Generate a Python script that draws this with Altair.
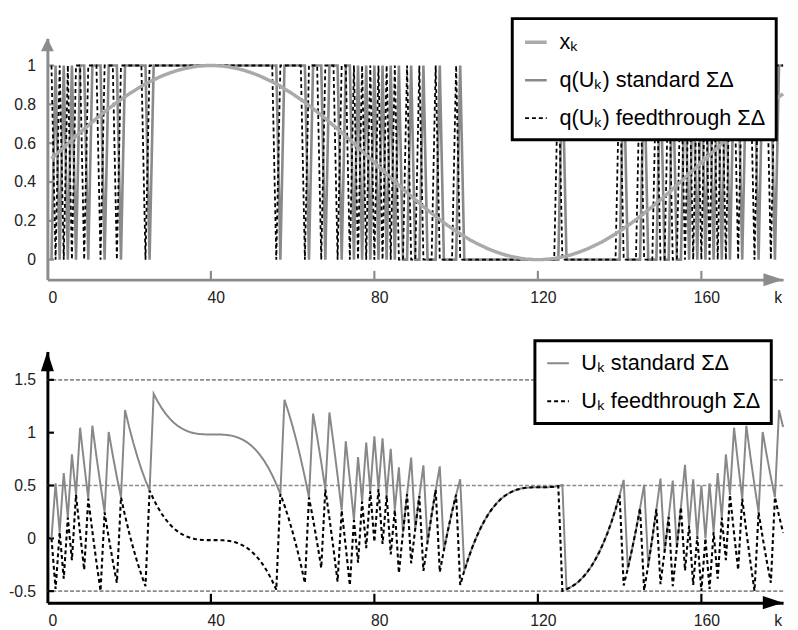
import altair as alt
import pandas as pd

# ---------------- data ----------------
K = list(range(1, 181))

X_K = [0.520, 0.539, 0.559, 0.578, 0.598, 0.617, 0.636, 0.655, 0.673, 0.691, 0.709, 0.727, 0.744, 0.761, 0.778, 0.794, 0.810, 0.825, 0.839, 0.854,
       0.867, 0.880, 0.893, 0.905, 0.916, 0.926, 0.936, 0.946, 0.954, 0.962, 0.969, 0.976, 0.981, 0.986, 0.990, 0.994, 0.997, 0.998, 1.000, 1.000,
       1.000, 0.998, 0.997, 0.994, 0.990, 0.986, 0.981, 0.976, 0.969, 0.962, 0.954, 0.946, 0.936, 0.926, 0.916, 0.905, 0.893, 0.880, 0.867, 0.854,
       0.839, 0.825, 0.810, 0.794, 0.778, 0.761, 0.744, 0.727, 0.709, 0.691, 0.673, 0.655, 0.636, 0.617, 0.598, 0.578, 0.559, 0.539, 0.520, 0.500,
       0.480, 0.461, 0.441, 0.422, 0.402, 0.383, 0.364, 0.345, 0.327, 0.309, 0.291, 0.273, 0.256, 0.239, 0.222, 0.206, 0.190, 0.175, 0.161, 0.146,
       0.133, 0.120, 0.107, 0.095, 0.084, 0.074, 0.064, 0.054, 0.046, 0.038, 0.031, 0.024, 0.019, 0.014, 0.010, 0.006, 0.003, 0.002, 0.000, 0.000,
       0.000, 0.002, 0.003, 0.006, 0.010, 0.014, 0.019, 0.024, 0.031, 0.038, 0.046, 0.054, 0.064, 0.074, 0.084, 0.095, 0.107, 0.120, 0.133, 0.146,
       0.161, 0.175, 0.190, 0.206, 0.222, 0.239, 0.256, 0.273, 0.291, 0.309, 0.327, 0.345, 0.364, 0.383, 0.402, 0.422, 0.441, 0.461, 0.480, 0.500,
       0.520, 0.539, 0.559, 0.578, 0.598, 0.617, 0.636, 0.655, 0.673, 0.691, 0.709, 0.727, 0.744, 0.761, 0.778, 0.794, 0.810, 0.825, 0.839, 0.854]

Q_STD = [0, 1, 0, 1, 0, 1, 0, 1, 1, 0, 1, 1, 1, 0, 1, 1, 1, 0, 1, 1,
         1, 1, 1, 1, 0, 1, 1, 1, 1, 1, 1, 1, 1, 1, 1, 1, 1, 1, 1, 1,
         1, 1, 1, 1, 1, 1, 1, 1, 1, 1, 1, 1, 1, 1, 1, 1, 0, 1, 1, 1,
         1, 1, 1, 0, 1, 1, 1, 0, 1, 1, 1, 0, 1, 1, 0, 1, 0, 1, 0, 1,
         0, 1, 0, 1, 0, 1, 0, 0, 1, 0, 0, 1, 0, 0, 0, 1, 0, 0, 0, 0,
         1, 0, 0, 0, 0, 0, 0, 0, 0, 0, 0, 0, 0, 0, 0, 0, 0, 0, 0, 0,
         0, 0, 0, 0, 0, 1, 0, 0, 0, 0, 0, 0, 0, 0, 0, 0, 0, 0, 0, 0,
         1, 0, 0, 0, 0, 1, 0, 0, 0, 1, 0, 0, 1, 0, 0, 1, 0, 1, 0, 1,
         0, 1, 0, 1, 0, 1, 0, 1, 1, 0, 1, 1, 1, 0, 1, 1, 1, 0, 1, 1]

Q_FT = [1, 0, 1, 0, 1, 0, 1, 1, 0, 1, 1, 1, 0, 1, 1, 1, 0, 1, 1, 1,
        1, 1, 1, 0, 1, 1, 1, 1, 1, 1, 1, 1, 1, 1, 1, 1, 1, 1, 1, 1,
        1, 1, 1, 1, 1, 1, 1, 1, 1, 1, 1, 1, 1, 1, 1, 0, 1, 1, 1, 1,
        1, 1, 0, 1, 1, 1, 0, 1, 1, 1, 0, 1, 1, 0, 1, 0, 1, 0, 1, 0,
        1, 0, 1, 0, 1, 0, 0, 1, 0, 0, 1, 0, 0, 0, 1, 0, 0, 0, 0, 1,
        0, 0, 0, 0, 0, 0, 0, 0, 0, 0, 0, 0, 0, 0, 0, 0, 0, 0, 0, 0,
        0, 0, 0, 0, 1, 0, 0, 0, 0, 0, 0, 0, 0, 0, 0, 0, 0, 0, 0, 1,
        0, 0, 0, 0, 1, 0, 0, 0, 1, 0, 0, 1, 0, 0, 1, 0, 1, 0, 1, 0,
        1, 0, 1, 0, 1, 0, 1, 1, 0, 1, 1, 1, 0, 1, 1, 1, 0, 1, 1, 1]

U_STD = [0.000, 0.520, 0.059, 0.618, 0.196, 0.794, 0.411, 1.047, 0.702, 0.375, 1.066, 0.775, 0.502, 0.246, 1.007, 0.785, 0.579, 0.389, 1.214, 1.053,
         0.907, 0.774, 0.654, 0.547, 0.452, 1.368, 1.294, 1.230, 1.176, 1.130, 1.092, 1.061, 1.037, 1.018, 1.004, 0.994, 0.988, 0.985, 0.983, 0.983,
         0.983, 0.983, 0.981, 0.978, 0.972, 0.962, 0.948, 0.929, 0.905, 0.874, 0.836, 0.790, 0.736, 0.672, 0.598, 0.514, 0.419, 1.312, 1.192, 1.059,
         0.913, 0.752, 0.577, 0.387, 1.181, 0.959, 0.720, 0.464, 1.191, 0.900, 0.591, 0.264, 0.919, 0.555, 0.172, 0.770, 0.348, 0.907, 0.446, 0.966,
         0.466, 0.946, 0.407, 0.848, 0.270, 0.672, 0.055, 0.419, 0.764, 0.091, 0.400, 0.691, -0.036, 0.220, 0.459, 0.681, -0.113, 0.077, 0.252, 0.413,
         0.559, -0.308, -0.188, -0.081, 0.014, 0.098, 0.172, 0.236, 0.290, 0.336, 0.374, 0.405, 0.429, 0.448, 0.462, 0.472, 0.478, 0.481, 0.483, 0.483,
         0.483, 0.483, 0.485, 0.488, 0.494, 0.504, -0.482, -0.463, -0.439, -0.408, -0.370, -0.324, -0.270, -0.206, -0.132, -0.048, 0.047, 0.154, 0.274, 0.407,
         0.553, -0.286, -0.111, 0.079, 0.285, 0.507, -0.254, 0.002, 0.275, 0.566, -0.125, 0.202, 0.547, -0.089, 0.294, 0.696, 0.118, 0.559, 0.020, 0.500,
         0.000, 0.520, 0.059, 0.618, 0.196, 0.794, 0.411, 1.047, 0.702, 0.375, 1.066, 0.775, 0.502, 0.246, 1.007, 0.785, 0.579, 0.389, 1.214, 1.053]

U_FT = [0.000, -0.480, 0.059, -0.382, 0.196, -0.206, 0.411, 0.047, -0.298, 0.375, 0.066, -0.225, -0.498, 0.246, 0.007, -0.215, -0.421, 0.389, 0.214, 0.053,
        -0.093, -0.226, -0.346, -0.453, 0.452, 0.368, 0.294, 0.230, 0.176, 0.130, 0.092, 0.061, 0.037, 0.018, 0.004, -0.006, -0.012, -0.015, -0.017, -0.017,
        -0.017, -0.017, -0.019, -0.022, -0.028, -0.038, -0.052, -0.071, -0.095, -0.126, -0.164, -0.210, -0.264, -0.328, -0.402, -0.486, 0.419, 0.312, 0.192, 0.059,
        -0.087, -0.248, -0.423, 0.387, 0.181, -0.041, -0.280, 0.464, 0.191, -0.100, -0.409, 0.264, -0.081, -0.445, 0.172, -0.230, 0.348, -0.093, 0.446, -0.034,
        0.466, -0.054, 0.407, -0.152, 0.270, -0.328, 0.055, 0.419, -0.236, 0.091, 0.400, -0.309, -0.036, 0.220, 0.459, -0.319, -0.113, 0.077, 0.252, 0.413,
        -0.441, -0.308, -0.188, -0.081, 0.014, 0.098, 0.172, 0.236, 0.290, 0.336, 0.374, 0.405, 0.429, 0.448, 0.462, 0.472, 0.478, 0.481, 0.483, 0.483,
        0.483, 0.483, 0.485, 0.488, 0.494, -0.496, -0.482, -0.463, -0.439, -0.408, -0.370, -0.324, -0.270, -0.206, -0.132, -0.048, 0.047, 0.154, 0.274, 0.407,
        -0.447, -0.286, -0.111, 0.079, 0.285, -0.493, -0.254, 0.002, 0.275, -0.434, -0.125, 0.202, -0.453, -0.089, 0.294, -0.304, 0.118, -0.441, 0.020, -0.500,
        0.000, -0.480, 0.059, -0.382, 0.196, -0.206, 0.411, 0.047, -0.298, 0.375, 0.066, -0.225, -0.498, 0.246, 0.007, -0.215, -0.421, 0.389, 0.214, 0.053]

TOP_SERIES = ["xₖ", "q(Uₖ) standard ΣΔ", "q(Uₖ) feedthrough ΣΔ"]
BOT_SERIES = ["Uₖ standard ΣΔ", "Uₖ feedthrough ΣΔ"]

X_LABELS = [0, 40, 80, 120, 160, 177.5]   # last one carries the "k" axis name
X_TICKS = [40, 80, 120, 160]
TOP_YTICKS = [0, 0.2, 0.4, 0.6, 0.8, 1]
BOT_YTICKS = [-0.5, 0, 0.5, 1, 1.5]
BOT_GUIDES = [1.5, 0.5, -0.5]

# ---------------- styling ----------------
FONT = "Liberation Sans"
W, TOP_H, BOT_H = 747, 245, 255
X_DOM = [0, 180]
TOP_DOM = [-0.103, 1.14]
BOT_DOM = [-0.609, 1.768]
AX_GREY = "#8c8c8c"
DASH = [4, 3]
NBSP = "\u00a0"

XS = alt.Scale(domain=X_DOM, nice=False, zero=False)
TYS = alt.Scale(domain=TOP_DOM, nice=False, zero=False)
BYS = alt.Scale(domain=BOT_DOM, nice=False, zero=False)


def x_axis(color):
    return alt.Axis(values=X_LABELS, title=None, ticks=False, grid=False,
                    domainColor=color, domainWidth=3, labelFont=FONT, labelFontSize=16,
                    labelColor="#222222", labelPadding=10, labelOffset=5, labelFlush=False,
                    labelOverlap=False, labelExpr="datum.value > 170 ? 'k' : datum.label")


def y_axis(color, values):
    return alt.Axis(values=values, title=None, ticks=False, grid=False,
                    domainColor=color, domainWidth=3, labelFont=FONT, labelFontSize=16,
                    labelColor="#222222", labelPadding=12, labelOverlap=False,
                    labelExpr="datum.value < 0 ? '-' + format(-datum.value, '~g') : format(datum.value, '~g')")


def legend(lx, ly, pad_spaces):
    return alt.Legend(title=None, orient="none", legendX=lx, legendY=ly,
                      symbolType="stroke", symbolSize=484, labelFont=FONT,
                      labelFontSize=22, labelColor="black", labelOffset=11,
                      rowPadding=15, padding=11, strokeColor="black", fillColor="white",
                      labelLimit=500, labelExpr="datum.label + '" + NBSP * pad_spaces + "'")


def arrow_layers(color, xmax, ymin, ymax, up_shape, up_size, right_shape, right_size):
    one = pd.DataFrame({"a": [0]})
    up = alt.Chart(one).mark_point(shape=up_shape, size=up_size, filled=True,
                                   color=color, opacity=1, strokeWidth=0).encode(
        x=alt.X(datum=X_DOM[0], scale=XS), y=alt.Y(datum=ymax))
    right = alt.Chart(one).mark_point(shape=right_shape, size=right_size, filled=True,
                                      color=color, opacity=1, strokeWidth=0).encode(
        x=alt.X(datum=xmax, scale=XS), y=alt.Y(datum=ymin))
    return up, right


UP = "M0,0 L0.5,1 L-0.5,1 Z"
UP_NARROW = "M0,0 L0.33,1 L-0.33,1 Z"
RIGHT = "M0,0 L-1,-0.33 L-1,0.33 Z"

# ---------------- top panel ----------------
top_df = pd.DataFrame({
    "k": K * 3,
    "v": X_K + Q_STD + Q_FT,
    "s": [TOP_SERIES[0]] * len(K) + [TOP_SERIES[1]] * len(K) + [TOP_SERIES[2]] * len(K),
})

top_leg = legend(472, -20, 5)
top_enc = dict(
    x=alt.X("k:Q", scale=XS, axis=x_axis(AX_GREY)),
    y=alt.Y("v:Q", scale=TYS, axis=y_axis(AX_GREY, TOP_YTICKS)),
    color=alt.Color("s:N", scale=alt.Scale(domain=TOP_SERIES, range=["#aaaaaa", "#8a8a8a", "#000000"]), legend=top_leg),
    strokeDash=alt.StrokeDash("s:N", scale=alt.Scale(domain=TOP_SERIES, range=[[1, 0], [1, 0], DASH]), legend=top_leg),
    strokeWidth=alt.StrokeWidth("s:N", scale=alt.Scale(domain=TOP_SERIES, range=[3.5, 1.8, 2.1]), legend=top_leg),
)

top_lines = [
    alt.Chart(top_df).transform_filter(alt.datum.s == name).mark_line(strokeJoin="miter").encode(**top_enc)
    for name in [TOP_SERIES[1], TOP_SERIES[2], TOP_SERIES[0]]
]

top_xt = alt.Chart(pd.DataFrame({"t": X_TICKS})).mark_rule(color=AX_GREY, strokeWidth=2.2).encode(
    x=alt.X("t:Q", scale=XS), y=alt.Y(datum=TOP_DOM[0], scale=TYS), y2=alt.Y2(datum=TOP_DOM[0] + 0.045))
top_yt = alt.Chart(pd.DataFrame({"t": TOP_YTICKS})).mark_rule(color=AX_GREY, strokeWidth=2.2).encode(
    y=alt.Y("t:Q", scale=TYS), x=alt.X(datum=X_DOM[0], scale=XS), x2=alt.X2(datum=1.6))
top_up, top_right = arrow_layers(AX_GREY, X_DOM[1], TOP_DOM[0], TOP_DOM[1], UP, 676, RIGHT, 1600)

top = alt.layer(top_xt, top_yt, *top_lines, top_up, top_right).properties(width=W, height=TOP_H)

# ---------------- bottom panel ----------------
bot_df = pd.DataFrame({
    "k": K * 2,
    "u": U_STD + U_FT,
    "s2": [BOT_SERIES[0]] * len(K) + [BOT_SERIES[1]] * len(K),
})

bot_leg = legend(495, -11, 4)
bot_enc = dict(
    x=alt.X("k:Q", scale=XS, axis=x_axis("black")),
    y=alt.Y("u:Q", scale=BYS, axis=y_axis("black", BOT_YTICKS)),
    color=alt.Color("s2:N", scale=alt.Scale(domain=BOT_SERIES, range=["#888888", "#000000"]), legend=bot_leg),
    strokeDash=alt.StrokeDash("s2:N", scale=alt.Scale(domain=BOT_SERIES, range=[[1, 0], DASH]), legend=bot_leg),
    strokeWidth=alt.StrokeWidth("s2:N", scale=alt.Scale(domain=BOT_SERIES, range=[2, 2.1]), legend=bot_leg),
)

bot_lines = [
    alt.Chart(bot_df).transform_filter(alt.datum.s2 == name).mark_line(strokeJoin="miter").encode(**bot_enc)
    for name in BOT_SERIES
]

guides = alt.Chart(pd.DataFrame({"g": BOT_GUIDES})).mark_rule(
    color="#8c8c8c", strokeWidth=1.6, strokeDash=[4, 2]).encode(y=alt.Y("g:Q", scale=BYS))
bot_xt = alt.Chart(pd.DataFrame({"t": X_TICKS})).mark_rule(color="black", strokeWidth=2.2).encode(
    x=alt.X("t:Q", scale=XS), y=alt.Y(datum=BOT_DOM[0], scale=BYS), y2=alt.Y2(datum=BOT_DOM[0] + 0.084))
bot_yt = alt.Chart(pd.DataFrame({"t": BOT_YTICKS})).mark_rule(color="black", strokeWidth=2.2).encode(
    y=alt.Y("t:Q", scale=BYS), x=alt.X(datum=X_DOM[0], scale=XS), x2=alt.X2(datum=1.6))
bot_up, bot_right = arrow_layers("black", X_DOM[1], BOT_DOM[0], BOT_DOM[1], UP_NARROW, 1600, RIGHT, 1700)

bottom = alt.layer(guides, bot_xt, bot_yt, *bot_lines, bot_up, bot_right).properties(width=W, height=BOT_H)

chart = alt.vconcat(top, bottom, spacing=73, bounds="flush").properties(
    padding={"left": 0, "top": 4, "right": 0, "bottom": 0}
).resolve_scale(
    y="independent", color="independent", strokeDash="independent", strokeWidth="independent"
).resolve_legend(
    color="independent", strokeDash="independent", strokeWidth="independent"
).configure_view(stroke=None).configure_legend(strokeWidth=3)

chart.save("out.html", embed_options={"renderer": "svg", "actions": False})
